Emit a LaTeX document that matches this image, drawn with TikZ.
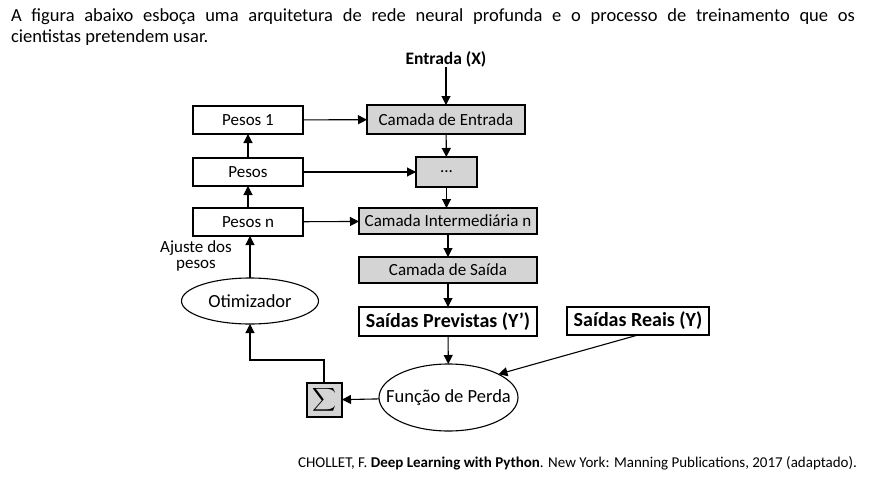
\documentclass[tikz,border=0pt]{standalone}
\usepackage{fontspec}
\usepackage{graphicx}
\setmainfont{Carlito}
\usetikzlibrary{arrows.meta,shapes.geometric}
\definecolor{boxgray}{HTML}{D4D4D4}
\begin{document}
\begin{tikzpicture}[x=1pt,y=-1pt,
  every node/.style={inner sep=0pt,outer sep=0pt},
  wbox/.style={draw,line width=1.1pt,fill=white,minimum width=110pt,minimum height=28pt,font=\fontsize{17}{19}\selectfont},
  gbox/.style={draw,line width=1.1pt,fill=boxgray,minimum height=27pt,font=\fontsize{17}{19}\selectfont},
  bbox/.style={draw,line width=1.1pt,fill=white,minimum height=28pt,font=\fontsize{20}{22}\selectfont\bfseries},
  ell/.style={draw,line width=1.1pt,ellipse,fill=white},
  elltext/.style={font=\fontsize{18.5}{20}\selectfont},
  arr/.style={line width=1.1pt,-{Triangle[length=9pt,width=9pt]}}
]
\useasboundingbox (0,0) rectangle (871,480);
\fill[white] (0,0) rectangle (871,480);
% heading
\node[anchor=west,font=\fontsize{18.5}{20}\selectfont] (h1) at (11,17) {\makebox[844pt][s]{A figura abaixo esboça uma arquitetura de rede neural profunda e o processo de treinamento que os}};
\node[anchor=west,font=\fontsize{18.5}{20}\selectfont] (h2) at (11,38) {cientistas pretendem usar.};
% nodes
\node[font=\fontsize{17.5}{19}\selectfont\bfseries] (x) at (446,59) {Entrada (X)};
\node[wbox] (p1) at (248,120) {Pesos 1};
\node[wbox] (p2) at (248,172) {Pesos};
\node[wbox] (pn) at (248,222) {Pesos n};
\node[gbox,minimum width=158pt,minimum height=29pt] (ce) at (446,119.5) {Camada de Entrada};
\node[gbox,minimum width=61pt,minimum height=30pt] (cd) at (446.5,172) {...};
\node[gbox,minimum width=178pt,minimum height=26pt] (ci) at (448,221) {Camada Intermediária n};
\node[gbox,minimum width=178pt,minimum height=26pt] (cs) at (448,270) {Camada de Saída};
\node[bbox,minimum width=178pt,minimum height=29pt] (sp) at (448,321.5) {Saídas Previstas (Y’)};
\node[bbox,minimum width=142pt,minimum height=28pt] (sr) at (638,321) {Saídas Reais (Y)};
\node[ell,minimum width=137pt,minimum height=46pt] (ot) at (250,301) {};
\node[elltext] (ott) at (ot) {Otimizador};
\node[ell,minimum width=139pt,minimum height=67pt] (fp) at (448.5,397.5) {};
\node[elltext] (fpt) at (fp) {Função de Perda};
\node[draw,line width=1.1pt,fill=boxgray,minimum width=35pt,minimum height=34pt] (sg) at (324.5,400) {\resizebox*{24pt}{26pt}{$\displaystyle\sum$}};
\node[align=center,font=\fontsize{17}{15.5}\selectfont] (aj) at (196,256) {Ajuste dos\\pesos};
% arrows
\draw[arr] (x) -- (ce);
\draw[arr] (ce) -- (cd);
\draw[arr] (cd.south) -- (cd.south |- ci.north);
\draw[arr] (ci.south) -- (ci.south |- cs.north);
\draw[arr] (cs) -- (sp);
\draw[arr] (sp) -- (fp);
\draw[arr] (p1) -- (ce);
\draw[arr] (p2) -- (cd);
\draw[arr] (pn) -- (ci);
\draw[arr] (p2.north) -- (p2.north |- p1.south);
\draw[arr] (pn.north) -- (pn.north |- p2.south);
\draw[arr] (ot.north) -- (ot.north |- pn.south);
\draw[arr] (sr.south) -- (fp.25);
\draw[arr] (fp) -- (sg);
\coordinate (c1) at (324,360);
\draw[arr] (sg.north -| c1) -- (c1) -| (ot.south);
% citation
\node[anchor=east,font=\fontsize{15}{17}\selectfont] (cit) at (857,463) {CHOLLET, F. \textbf{Deep Learning with Python}. New York: Manning Publications, 2017 (adaptado).};
\end{tikzpicture}
\end{document}
